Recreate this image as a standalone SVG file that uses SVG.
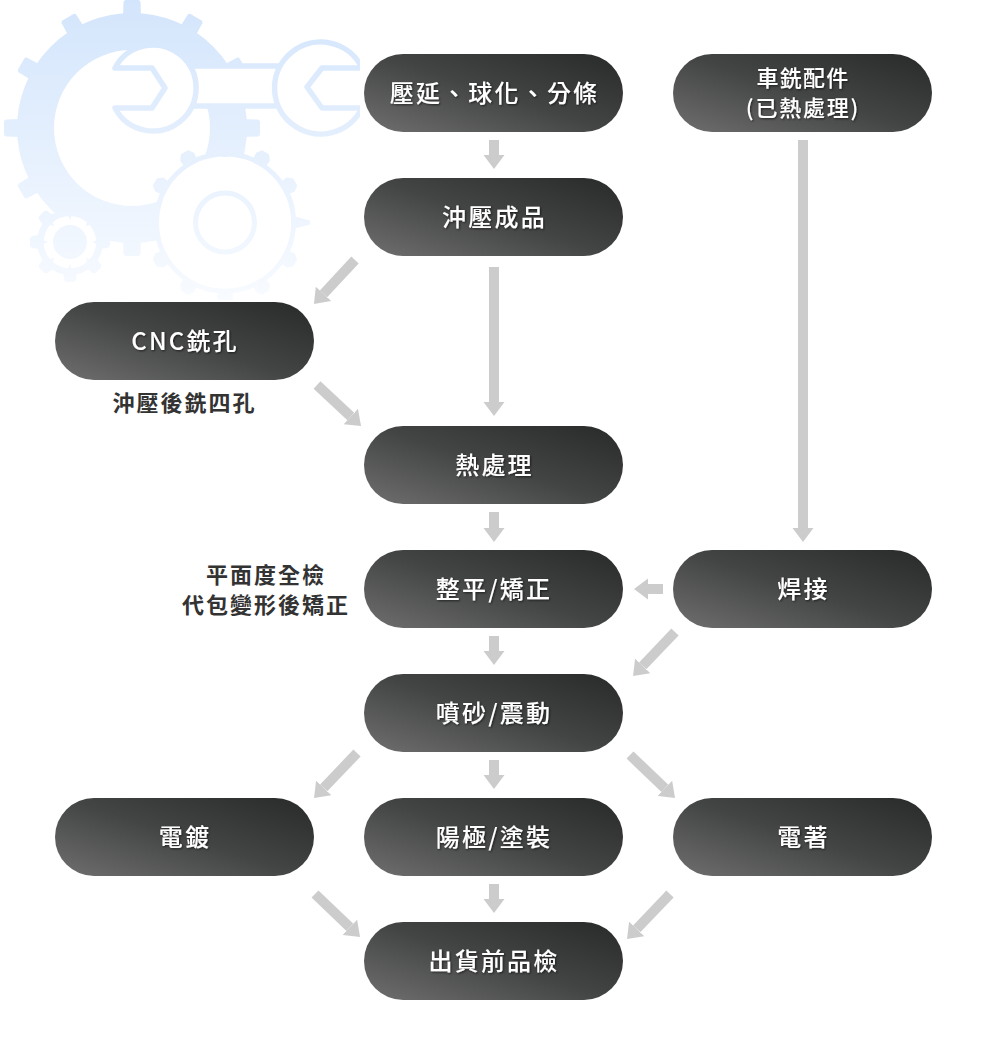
<svg xmlns="http://www.w3.org/2000/svg" width="987" height="1054" viewBox="0 0 987 1054">
<style>
.pill{fill:url(#pill)}
.t{font-family:"Noto Sans CJK TC","Noto Sans",sans-serif;font-size:24px;font-weight:500;letter-spacing:2.2px;fill:#fff;text-anchor:middle;filter:url(#ts)}
.s{font-size:22px;letter-spacing:1.2px}
.n{font-family:"Noto Sans CJK TC","Noto Sans",sans-serif;font-size:22px;font-weight:700;letter-spacing:2px;fill:#333;text-anchor:middle}
.a{stroke:#ccc;stroke-width:10;fill:none;marker-end:url(#head)}
.w{fill:#000;stroke:#fff;stroke-width:5.500;stroke-linejoin:round;stroke-linecap:round}
</style>
<defs>
<linearGradient id="pill" x1="0" y1="1" x2="1.040" y2="0.040"><stop offset="0" stop-color="#6f6f6f"/><stop offset="0.5" stop-color="#434444"/><stop offset="1" stop-color="#282929"/></linearGradient>
<linearGradient id="gear" gradientUnits="userSpaceOnUse" x1="0" y1="0" x2="0" y2="300"><stop offset="0" stop-color="#d3e5fc"/><stop offset="1" stop-color="#f8fbff"/></linearGradient>
<filter id="ts" x="-10%" y="-20%" width="120%" height="150%"><feDropShadow dx="1" dy="1" stdDeviation="1.200" flood-color="#000" flood-opacity="0.6"/></filter>
<marker id="head" markerUnits="userSpaceOnUse" markerWidth="15" markerHeight="22" refX="0" refY="11" orient="auto"><path d="M0,0.5L14,11L0,21.500Z" fill="#ccc"/></marker>
<path id="t1" d="M-9,-110L-8.500,-126Q-8,-128 -6,-128H6Q8,-128 8.500,-126L9,-110Z"/>
<path id="t2" d="M-7,-66L-8,-76L-4,-81H4L8,-76L7,-66Z"/>
<path id="t2b" d="M-7,-66L-2,-85H2L7,-66Z"/>
<path id="t3" d="M-7,-30L-6,-38Q-5,-40 -3,-40H3Q5,-40 6,-38L7,-30Z"/>
<path id="t4" d="M-2,-27L0,-22L2,-27Z"/>
<clipPath id="cut"><rect x="0" y="0" width="360" height="300"/></clipPath>
<mask id="gm" maskUnits="userSpaceOnUse" x="0" y="0" width="370" height="300">
<rect width="370" height="300" fill="#000"/>
<g clip-path="url(#cut)">
<circle cx="132" cy="128" r="96.500" fill="none" stroke="#fff" stroke-width="37"/>
<g fill="#fff" transform="translate(132,128)">
<use href="#t1"/><use href="#t1" transform="rotate(30)"/><use href="#t1" transform="rotate(60)"/><use href="#t1" transform="rotate(90)"/><use href="#t1" transform="rotate(120)"/><use href="#t1" transform="rotate(180)"/><use href="#t1" transform="rotate(240)"/><use href="#t1" transform="rotate(270)"/><use href="#t1" transform="rotate(300)"/><use href="#t1" transform="rotate(330)"/>
</g>
<g fill="#fff" transform="translate(70,242)">
<use href="#t3"/><use href="#t3" transform="rotate(45)"/><use href="#t3" transform="rotate(90)"/><use href="#t3" transform="rotate(135)"/><use href="#t3" transform="rotate(180)"/><use href="#t3" transform="rotate(225)"/><use href="#t3" transform="rotate(270)"/><use href="#t3" transform="rotate(315)"/>
<circle r="29.500" fill="none" stroke="#fff" stroke-width="7"/>
<circle r="26" fill="#000"/>
<circle r="17"/>
<use href="#t4"/><use href="#t4" transform="rotate(45)"/><use href="#t4" transform="rotate(90)"/><use href="#t4" transform="rotate(135)"/><use href="#t4" transform="rotate(180)"/><use href="#t4" transform="rotate(225)"/><use href="#t4" transform="rotate(270)"/><use href="#t4" transform="rotate(315)"/>
</g>
<g fill="#fff" transform="translate(225,222.500)">
<use href="#t2" transform="rotate(30)"/><use href="#t2" transform="rotate(60)"/><use href="#t2b" transform="rotate(90)"/><use href="#t2" transform="rotate(120)"/><use href="#t2" transform="rotate(150)"/><use href="#t2" transform="rotate(180)"/><use href="#t2" transform="rotate(210)"/><use href="#t2" transform="rotate(240)"/><use href="#t2" transform="rotate(300)"/><use href="#t2" transform="rotate(330)"/>
<circle r="68.500" fill="none" stroke="#fff" stroke-width="5"/>
<circle r="66" fill="#000"/>
<path d="M-3,-65.500L0,-70L3,-65.500Z"/>
<circle r="29.500" fill="none" stroke="#fff" stroke-width="5"/>
</g>
<rect class="w" x="190" y="66" width="95" height="40"/>
<path class="w" d="M115,68H152L165,88L152,108H115A43,43 0 1 0 115,68Z"/>
<path class="w" d="M362,68H322L307,87L322,108H362A46,46 0 1 1 362,68Z"/>
</g>
</mask>
</defs>
<g id="gears"><rect width="370" height="300" fill="url(#gear)" mask="url(#gm)"/></g>
<g id="connectors">
<line class="a" x1="494" y1="140" x2="494" y2="155"/>
<line class="a" x1="494" y1="267" x2="494" y2="402"/>
<line class="a" x1="803" y1="140" x2="803" y2="528"/>
<line class="a" x1="494" y1="512" x2="494" y2="528"/>
<line class="a" x1="663" y1="589" x2="648" y2="589"/>
<line class="a" x1="494" y1="636" x2="494" y2="651"/>
<line class="a" x1="494" y1="760" x2="494" y2="775"/>
<line class="a" x1="494" y1="884" x2="494" y2="899"/>
<line class="a" x1="355" y1="260" x2="323.500" y2="293.800"/>
<line class="a" x1="317" y1="385" x2="350.800" y2="416.500"/>
<line class="a" x1="675" y1="632" x2="642.700" y2="665.900"/>
<line class="a" x1="357" y1="753" x2="323.700" y2="787.900"/>
<line class="a" x1="630" y1="755" x2="664.900" y2="788.300"/>
<line class="a" x1="315" y1="894" x2="349.900" y2="927.300"/>
<line class="a" x1="670" y1="894" x2="636.700" y2="928.900"/>
</g>
<g id="n1"><rect class="pill" x="364" y="54" width="259" height="78" rx="39"/><text class="t" x="494.500" y="102">壓延、球化、分條</text></g>
<g id="n2"><rect class="pill" x="673" y="54" width="259" height="78" rx="39"/><text class="t s" x="803" y="86">車銑配件</text><text class="t s" x="803" y="116" style="letter-spacing:1.8px">(已熱處理)</text></g>
<g id="n3"><rect class="pill" x="364" y="178" width="259" height="78" rx="39"/><text class="t" x="494.500" y="226">沖壓成品</text></g>
<g id="n4"><rect class="pill" x="55" y="302" width="259" height="78" rx="39"/><text class="t" x="185" y="350">CNC銑孔</text></g>
<g id="n5"><rect class="pill" x="364" y="426" width="259" height="78" rx="39"/><text class="t" x="494.500" y="474">熱處理</text></g>
<g id="n6"><rect class="pill" x="364" y="550" width="259" height="78" rx="39"/><text class="t" x="494" y="597.500">整平/矯正</text></g>
<g id="n7"><rect class="pill" x="673" y="550" width="259" height="78" rx="39"/><text class="t" x="803.500" y="597.500">焊接</text></g>
<g id="n8"><rect class="pill" x="364" y="674" width="259" height="78" rx="39"/><text class="t" x="494" y="721.500">噴砂/震動</text></g>
<g id="n9"><rect class="pill" x="55" y="798" width="259" height="78" rx="39"/><text class="t" x="185" y="845.500">電鍍</text></g>
<g id="n10"><rect class="pill" x="364" y="798" width="259" height="78" rx="39"/><text class="t" x="494" y="845.500">陽極/塗裝</text></g>
<g id="n11"><rect class="pill" x="673" y="798" width="259" height="78" rx="39"/><text class="t" x="803.500" y="845.500">電著</text></g>
<g id="n12"><rect class="pill" x="364" y="922" width="259" height="78" rx="39"/><text class="t" x="494" y="969.500">出貨前品檢</text></g>
<g id="notes">
<text class="n" x="184.500" y="411">沖壓後銑四孔</text>
<text class="n" x="266" y="583">平面度全檢</text>
<text class="n" x="266" y="613">代包變形後矯正</text>
</g>
</svg>
